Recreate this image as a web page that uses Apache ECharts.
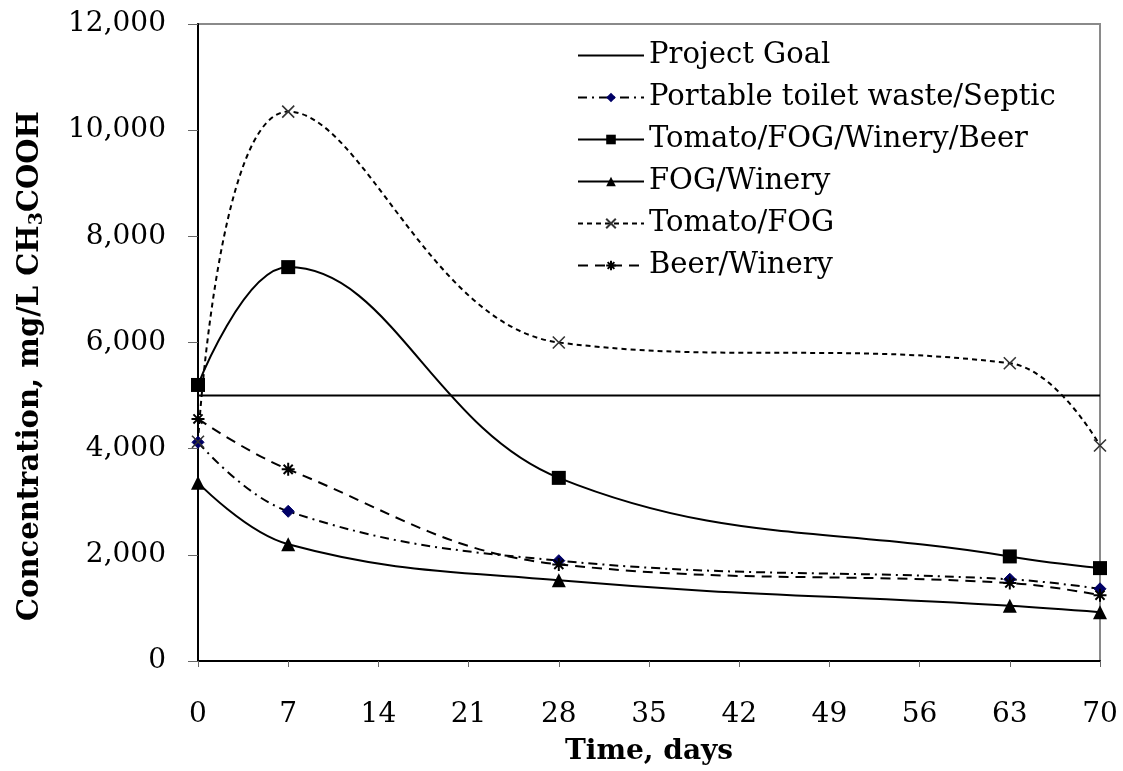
<!DOCTYPE html>
<html>
<head>
<meta charset="utf-8">
<script src="https://cdn.jsdelivr.net/npm/echarts@6/dist/echarts.min.js"></script>
<style>html,body{margin:0;padding:0;background:#fff}#c{width:1123px;height:771px}</style>
</head>
<body>
<div id="c"></div>
<script>
var days = [0, 7, 28, 63, 70];
var xTicks = [0, 7, 14, 21, 28, 35, 42, 49, 56, 63, 70];
var projectGoal = [5000, 5000, 5000, 5000, 5000];
var portableToilet = [4120, 2820, 1890, 1540, 1360];
var tomatoFogWineryBeer = [5200, 7420, 3450, 1970, 1750];
var fogWinery = [3360, 2200, 1520, 1040, 920];
var tomatoFog = [4130, 10350, 6000, 5610, 4060];
var beerWinery = [4560, 3610, 1820, 1470, 1240];

var names = ['Project Goal', 'Portable toilet waste/Septic', 'Tomato/FOG/Winery/Beer', 'FOG/Winery', 'Tomato/FOG', 'Beer/Winery'];

function pairs(arr) { return days.map(function (d, i) { return [d, arr[i]]; }); }

var FONT = '"DejaVu Serif", "Liberation Serif", serif';
var xSym = 'path://M0,0L10,10M10,0L0,10';
var starSym = 'path://M5,0L5,10M0,5L10,5M1.5,1.5L8.5,8.5M8.5,1.5L1.5,8.5';

var legendData = names.map(function (n, i) {
  if (i === 0) return { name: n, itemStyle: { color: 'rgba(0,0,0,0)', borderColor: 'rgba(0,0,0,0)', borderWidth: 0 } };
  return { name: n };
});

var chart = echarts.init(document.getElementById('c'), null, { renderer: 'canvas' });
chart.setOption({
  backgroundColor: '#fff',
  animation: false,
  grid: { left: 198, right: 23, top: 24, bottom: 110, show: true, borderColor: '#8a8a8a', borderWidth: 2, containLabel: false },
  legend: {
    data: legendData,
    orient: 'vertical',
    left: 572,
    top: 36,
    itemWidth: 66,
    itemHeight: 12,
    itemGap: 13,
    textStyle: { fontFamily: FONT, fontSize: 29, color: '#000' },
    inactiveColor: '#000'
  },
  graphic: [{
    type: 'text',
    rotation: Math.PI / 2,
    x: 30, y: 366,
    style: {
      text: '{a|Concentration, mg/L CH}{s|3}{a|COOH}',
      align: 'center',
      verticalAlign: 'middle',
      rich: {
        a: { fontFamily: FONT, fontSize: 29, fontWeight: 'bold', fill: '#000', lineHeight: 34, verticalAlign: 'middle' },
        s: { fontFamily: FONT, fontSize: 19, fontWeight: 'bold', fill: '#000', lineHeight: 34, verticalAlign: 'bottom' }
      }
    }
  }],
  xAxis: {
    type: 'value',
    min: 0, max: 70, interval: 7,
    name: 'Time, days',
    nameLocation: 'middle',
    nameGap: 77,
    nameTextStyle: { fontFamily: FONT, fontSize: 28, fontWeight: 'bold', color: '#000' },
    axisLine: { show: true, onZero: false, lineStyle: { color: '#000', width: 2 } },
    axisTick: { show: true, inside: false, length: 6, lineStyle: { color: '#666' } },
    axisLabel: { fontFamily: FONT, fontSize: 28, color: '#000', margin: 40 },
    splitLine: { show: false }
  },
  yAxis: {
    type: 'value',
    min: 0, max: 12000, interval: 2000,
    axisLine: { show: true, lineStyle: { color: '#000', width: 2 } },
    axisTick: { show: true, inside: false, length: 10, lineStyle: { color: '#666' } },
    axisLabel: {
      fontFamily: FONT, fontSize: 28, color: '#000', margin: 32,
      formatter: function (v) { return v.toLocaleString('en-US'); }
    },
    splitLine: { show: false }
  },
  series: [
    {
      name: names[0], type: 'line', data: pairs(projectGoal),
      symbol: 'none',
      lineStyle: { color: '#000', width: 2, type: 'solid' },
      itemStyle: { color: '#000' }
    },
    {
      name: names[1], type: 'line', data: pairs(portableToilet), smooth: 0.4,
      symbol: 'diamond', symbolSize: 12,
      lineStyle: { color: '#000', width: 2, type: [9, 5, 2, 5] },
      itemStyle: { color: '#000066', borderColor: '#000066' }
    },
    {
      name: names[2], type: 'line', data: pairs(tomatoFogWineryBeer), smooth: 0.4,
      symbol: 'rect', symbolSize: 14,
      lineStyle: { color: '#000', width: 2, type: 'solid' },
      itemStyle: { color: '#000' }
    },
    {
      name: names[3], type: 'line', data: pairs(fogWinery), smooth: 0.4,
      symbol: 'triangle', symbolSize: 14,
      lineStyle: { color: '#000', width: 2, type: 'solid' },
      itemStyle: { color: '#000' }
    },
    {
      name: names[4], type: 'line', data: pairs(tomatoFog), smooth: 0.4,
      symbol: xSym, symbolSize: 12,
      lineStyle: { color: '#000', width: 2, type: [5, 4] },
      itemStyle: { color: 'none', borderColor: '#333', borderWidth: 1.6 }
    },
    {
      name: names[5], type: 'line', data: pairs(beerWinery), smooth: 0.4,
      symbol: starSym, symbolSize: 13,
      lineStyle: { color: '#000', width: 2, type: [10, 7] },
      itemStyle: { color: 'none', borderColor: '#000', borderWidth: 2 }
    }
  ]
});
</script>
</body>
</html>
